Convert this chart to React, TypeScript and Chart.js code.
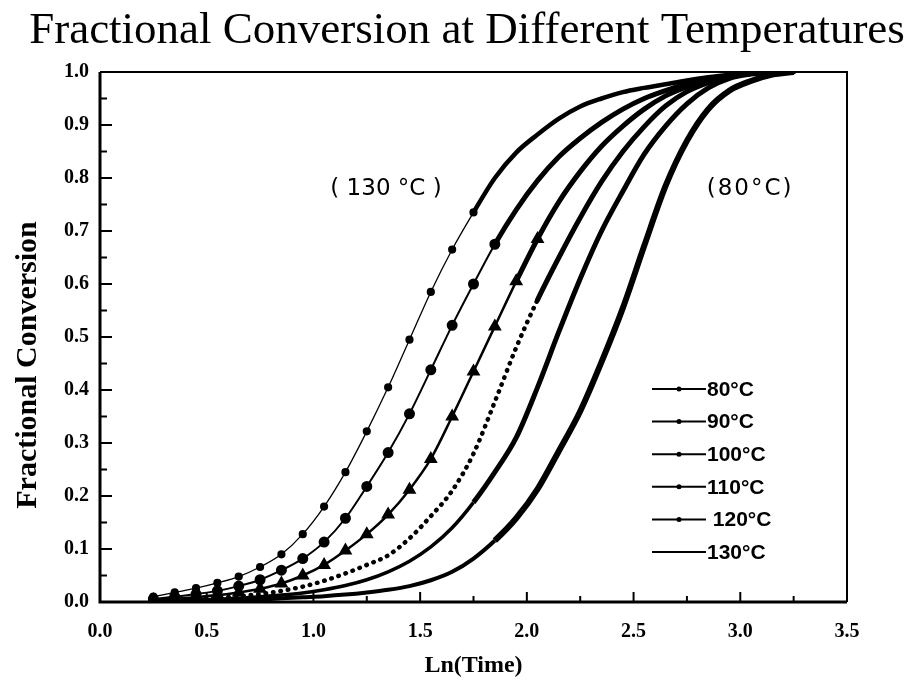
import React, { useEffect, useRef } from "react";
import { Chart, registerables } from "chart.js";

Chart.register(...registerables);

// Ln(Time) sample positions shared by every series
const lnTime = [0.25, 0.35, 0.45, 0.55, 0.65, 0.75, 0.85, 0.95, 1.05, 1.15, 1.25, 1.35, 1.45, 1.55, 1.65, 1.75, 1.85, 1.95, 2.05, 2.15, 2.25, 2.35, 2.45, 2.55, 2.65, 2.75, 2.85, 2.95, 3.05, 3.15, 3.25];

// Fractional conversion
const conv80 = [0.001, 0.002, 0.002, 0.003, 0.004, 0.005, 0.007, 0.009, 0.011, 0.014, 0.018, 0.023, 0.030, 0.041, 0.057, 0.082, 0.116, 0.158, 0.213, 0.285, 0.360, 0.453, 0.555, 0.672, 0.785, 0.870, 0.930, 0.965, 0.983, 0.995, 1.000];
const conv90 = [0.002, 0.003, 0.004, 0.005, 0.007, 0.010, 0.013, 0.017, 0.023, 0.031, 0.042, 0.057, 0.077, 0.104, 0.140, 0.188, 0.245, 0.310, 0.405, 0.510, 0.610, 0.700, 0.775, 0.845, 0.898, 0.940, 0.970, 0.988, 0.996, 0.999, 1.000];
const conv100 = [0.003, 0.004, 0.006, 0.008, 0.011, 0.015, 0.021, 0.029, 0.040, 0.054, 0.070, 0.088, 0.120, 0.162, 0.210, 0.280, 0.378, 0.480, 0.570, 0.650, 0.725, 0.793, 0.850, 0.897, 0.936, 0.963, 0.980, 0.992, 0.997, 0.999, 1.000];
const conv110 = [0.004, 0.006, 0.009, 0.013, 0.018, 0.025, 0.035, 0.050, 0.070, 0.097, 0.128, 0.165, 0.212, 0.270, 0.350, 0.435, 0.520, 0.605, 0.685, 0.755, 0.812, 0.860, 0.898, 0.930, 0.955, 0.972, 0.984, 0.992, 0.997, 0.999, 1.000];
const conv120 = [0.006, 0.010, 0.015, 0.021, 0.030, 0.042, 0.060, 0.082, 0.113, 0.158, 0.218, 0.282, 0.355, 0.438, 0.522, 0.600, 0.675, 0.740, 0.795, 0.840, 0.875, 0.905, 0.930, 0.950, 0.965, 0.978, 0.987, 0.993, 0.997, 0.999, 1.000];
const conv130 = [0.010, 0.018, 0.026, 0.036, 0.048, 0.066, 0.090, 0.128, 0.180, 0.245, 0.322, 0.405, 0.495, 0.585, 0.665, 0.735, 0.800, 0.848, 0.882, 0.912, 0.935, 0.950, 0.962, 0.970, 0.977, 0.984, 0.990, 0.995, 0.998, 0.999, 1.000];

const seriesLabels = ["80°C", "90°C", "100°C", "110°C", " 120°C", "130°C"];

// Axis ticks
const xMajorTicks = [0, 0.5, 1.0, 1.5, 2.0, 2.5, 3.0, 3.5];
const xMinorTicks = [0.25, 0.75, 1.25, 1.75, 2.25, 2.75, 3.25];
const yMajorTicks = [0, 0.1, 0.2, 0.3, 0.4, 0.5, 0.6, 0.7, 0.8, 0.9, 1.0];
const yMinorTicks = [0.05, 0.15, 0.25, 0.35, 0.45, 0.55, 0.65, 0.75, 0.85, 0.95];

// Text annotations placed at (ln time, conversion)
const annotationTexts = ["( 130 °C )", "(80°C)"];
const annotationX = [1.34, 3.046];
const annotationY = [0.78, 0.78];

const titleText = "Fractional Conversion at Different Temperatures";
const xTitle = "Ln(Time)";
const yTitle = "Fractional Conversion";

const SERIF = '"Liberation Serif", "Times New Roman", serif';

const toPoints = (ys: number[]) => lnTime.map((x, i) => ({ x, y: ys[i] }));

const segStyle = (thin: number, thick: number, yThreshold: number, lowDash?: number[]) => ({
  borderWidth: (c: any) => (c.p1.parsed.y >= yThreshold ? thick : thin),
  borderDash: (c: any) => (c.p1.parsed.y >= yThreshold ? [] : lowDash ? lowDash : []),
});

const framePlugin = {
  id: "frameTicks",
  afterDraw(chart: any) {
    const { ctx, chartArea: a } = chart;
    const x = chart.scales.x;
    const y = chart.scales.y;
    ctx.save();
    ctx.strokeStyle = "#000";
    ctx.lineCap = "butt";
    ctx.lineWidth = 2;
    const drawX = (v: number, len: number) => {
      const px = x.getPixelForValue(v);
      ctx.beginPath();
      ctx.moveTo(px, a.bottom);
      ctx.lineTo(px, a.bottom - len);
      ctx.stroke();
    };
    const drawY = (v: number, len: number) => {
      const py = y.getPixelForValue(v);
      ctx.beginPath();
      ctx.moveTo(a.left, py);
      ctx.lineTo(a.left + len, py);
      ctx.stroke();
    };
    xMajorTicks.forEach((v) => drawX(v, 10));
    xMinorTicks.forEach((v) => drawX(v, 6));
    yMajorTicks.forEach((v) => drawY(v, 12));
    yMinorTicks.forEach((v) => drawY(v, 7));
    ctx.lineWidth = 2;
    ctx.beginPath();
    ctx.moveTo(a.left, a.top);
    ctx.lineTo(a.right, a.top);
    ctx.lineTo(a.right, a.bottom);
    ctx.stroke();
    ctx.lineWidth = 3;
    ctx.beginPath();
    ctx.moveTo(a.left, a.top);
    ctx.lineTo(a.left, a.bottom);
    ctx.lineTo(a.right, a.bottom);
    ctx.stroke();
    ctx.restore();
  },
};

const textPlugin = {
  id: "textExtras",
  afterDraw(chart: any) {
    const { ctx } = chart;
    const x = chart.scales.x;
    const y = chart.scales.y;
    ctx.save();
    ctx.fillStyle = "#000";
    // title
    ctx.font = `45px ${SERIF}`;
    ctx.textAlign = "center";
    ctx.textBaseline = "alphabetic";
    ctx.fillText(titleText, 467, 43);
    // y axis title
    ctx.save();
    ctx.translate(28, 365);
    ctx.rotate(-Math.PI / 2);
    ctx.font = `bold 30px ${SERIF}`;
    ctx.textBaseline = "middle";
    ctx.fillText(yTitle, 0, 0);
    ctx.restore();
    // annotations
    ctx.font = '23px "DejaVu Sans", sans-serif';
    ctx.textBaseline = "middle";
    ctx.textAlign = "center";
    annotationTexts.forEach((t, i) => {
      (ctx as any).letterSpacing = i === 1 ? "2px" : "0px";
      ctx.fillText(t, x.getPixelForValue(annotationX[i]), y.getPixelForValue(annotationY[i]));
    });
    (ctx as any).letterSpacing = "0px";
    // legend
    const ds = chart.data.datasets;
    ds.forEach((d: any, i: number) => {
      const yy = 389 + i * 32.6;
      ctx.strokeStyle = "#000";
      ctx.lineWidth = 2;
      ctx.beginPath();
      ctx.moveTo(652, yy);
      ctx.lineTo(706, yy);
      ctx.stroke();
      if (i < 5) {
        ctx.beginPath();
        ctx.arc(679, yy, 2.5, 0, Math.PI * 2);
        ctx.fill();
      }
      ctx.font = 'bold 21px "Liberation Sans", Arial, sans-serif';
      ctx.textAlign = "left";
      ctx.textBaseline = "middle";
      ctx.fillText(d.label, 707, yy + 1);
    });
    ctx.restore();
  },
};

export default function App() {
  const canvasRef = useRef<HTMLCanvasElement | null>(null);

  useEffect(() => {
    document.body.style.margin = "0";
    const canvas = canvasRef.current;
    if (!canvas) return;
    const black = "#000";
    const chart = new Chart(canvas, {
      type: "line",
      data: {
        datasets: [
          {
            label: seriesLabels[0],
            data: toPoints(conv80),
            borderColor: black,
            backgroundColor: black,
            borderWidth: 6,
            pointRadius: 0,
            cubicInterpolationMode: "monotone",
            segment: segStyle(4, 6, 0.15),
          },
          {
            label: seriesLabels[1],
            data: toPoints(conv90),
            borderColor: black,
            backgroundColor: black,
            borderWidth: 5,
            pointRadius: 0,
            cubicInterpolationMode: "monotone",
            segment: segStyle(3.5, 5, 0.2),
          },
          {
            label: seriesLabels[2],
            data: toPoints(conv100),
            borderColor: black,
            backgroundColor: black,
            borderWidth: 5,
            borderCapStyle: "round",
            pointRadius: 0,
            cubicInterpolationMode: "monotone",
            segment: segStyle(4.5, 5, 0.6, [0.5, 7]),
          },
          {
            label: seriesLabels[3],
            data: toPoints(conv110),
            borderColor: black,
            backgroundColor: black,
            borderWidth: 5,
            pointStyle: "triangle",
            pointRadius: (c: any) => (c.raw && c.raw.y < 0.7 ? 3 : 0),
            cubicInterpolationMode: "monotone",
            segment: segStyle(2.5, 5, 0.65),
          },
          {
            label: seriesLabels[4],
            data: toPoints(conv120),
            borderColor: black,
            backgroundColor: black,
            borderWidth: 5,
            pointStyle: "circle",
            pointRadius: (c: any) => (c.raw && c.raw.y < 0.7 ? 3 : 0),
            cubicInterpolationMode: "monotone",
            segment: segStyle(2, 5, 0.7),
          },
          {
            label: seriesLabels[5],
            data: toPoints(conv130),
            borderColor: black,
            backgroundColor: black,
            borderWidth: 5,
            pointStyle: "circle",
            pointRadius: (c: any) => (c.raw && c.raw.y < 0.8 ? 1.6 : 0),
            cubicInterpolationMode: "monotone",
            segment: segStyle(1.3, 4.5, 0.8),
          },
        ],
      },
      options: {
        responsive: false,
        animation: false,
        devicePixelRatio: 1,
        layout: { padding: { top: 72, right: 64, left: 0, bottom: 0 } },
        plugins: {
          legend: { display: false },
          title: { display: false },
          tooltip: { enabled: false },
        },
        scales: {
          x: {
            type: "linear",
            min: 0,
            max: 3.5,
            afterFit: (s: any) => {
              s.height = 78;
            },
            afterBuildTicks: (s: any) => {
              s.ticks = xMajorTicks.map((v) => ({ value: v }));
            },
            grid: { display: false, drawTicks: false },
            border: { display: false },
            ticks: {
              padding: 18,
              color: "#000",
              font: { family: SERIF, size: 20, weight: "bold" },
              callback: (v: any) => Number(v).toFixed(1),
              maxRotation: 0,
            },
            title: {
              display: true,
              text: xTitle,
              color: "#000",
              font: { family: SERIF, size: 24, weight: "bold" },
              padding: { top: 0, bottom: 0 },
            },
          },
          y: {
            type: "linear",
            min: 0,
            max: 1,
            afterFit: (s: any) => {
              s.width = 100;
            },
            afterBuildTicks: (s: any) => {
              s.ticks = yMajorTicks.map((v) => ({ value: v }));
            },
            grid: { display: false, drawTicks: false },
            border: { display: false },
            ticks: {
              padding: 11,
              color: "#000",
              font: { family: SERIF, size: 20, weight: "bold" },
              callback: (v: any) => Number(v).toFixed(1),
            },
            title: { display: false },
          },
        },
      },
      plugins: [framePlugin, textPlugin],
    } as any);
    return () => chart.destroy();
  }, []);

  return (
    <div style={{ width: 911, height: 680 }}>
      <canvas ref={canvasRef} width={911} height={680} style={{ display: "block" }} />
    </div>
  );
}
